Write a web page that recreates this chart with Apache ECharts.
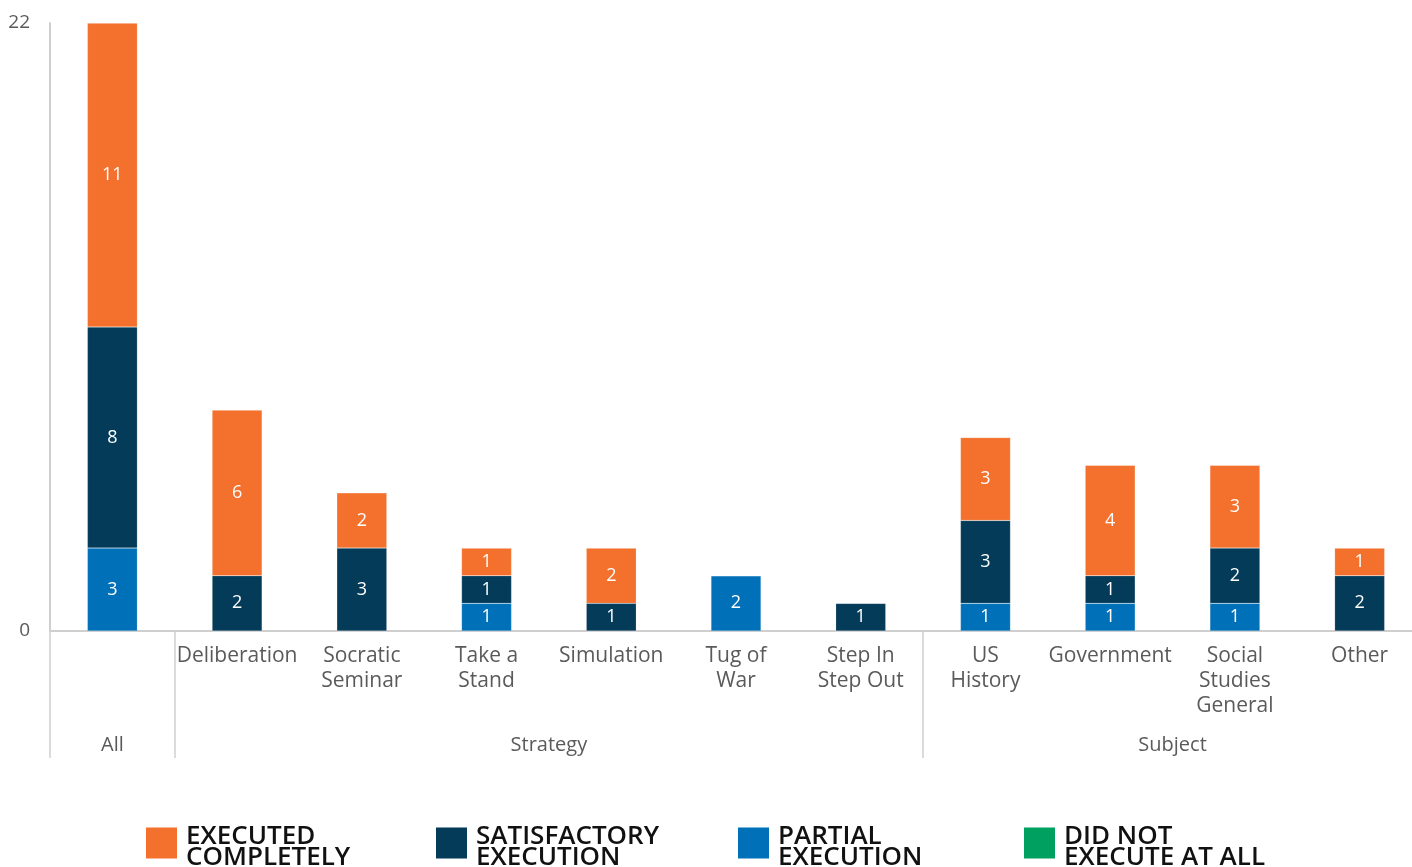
<!DOCTYPE html>
<html>
<head>
<meta charset="utf-8">
<script src="https://cdn.jsdelivr.net/npm/echarts@6/dist/echarts.min.js"></script>
<style>
  html, body { margin: 0; padding: 0; background: #fff; }
  #chart { width: 1412px; height: 867px; }
</style>
</head>
<body>
<div id="chart"></div>
<script>
// Categories along the x axis (the overall bar carries its name in the group band only)
const categories = [
  'All', 'Deliberation', 'Socratic\nSeminar', 'Take a\nStand', 'Simulation',
  'Tug of\nWar', 'Step In\nStep Out', 'US\nHistory', 'Government',
  'Social\nStudies\nGeneral', 'Other'
];

// Group headers and the category index ranges they cover
const groupNames = ['All', 'Strategy', 'Subject'];
const groupBounds = [0, 1, 7, 11];

// Counts per execution level
const partialExecution      = [3, 0, 0, 1, 0, 2, 0, 1, 1, 1, 0];
const satisfactoryExecution = [8, 2, 3, 1, 1, 0, 1, 3, 1, 2, 2];
const executedCompletely    = [11, 6, 2, 1, 2, 0, 0, 3, 4, 3, 1];
const didNotExecute         = [0, 0, 0, 0, 0, 0, 0, 0, 0, 0, 0];

const yTicks = [0, 22];

const NAMES = {
  exec: 'EXECUTED\nCOMPLETELY',
  sat: 'SATISFACTORY\nEXECUTION',
  part: 'PARTIAL\nEXECUTION',
  dne: 'DID NOT\nEXECUTE AT ALL'
};
const COLORS = {
  exec: '#F3702D',
  sat: '#033B59',
  part: '#0070B8',
  dne: '#00A160'
};

const FONT = '"Open Sans", Lato, sans-serif';

// Square swatch sitting at the top of a taller box, so it lines up with the first text line
const SWATCH = 'path://M0,0L31,0L31,31L0,31Z M0,40L0.01,40';

// Midpoints of each group span, where the group headers sit
const groupCenters = groupNames.map((_, i) => (groupBounds[i] + groupBounds[i + 1]) / 2);

function barSeries(name, data, color) {
  return {
    name: name,
    type: 'bar',
    stack: 'total',
    data: data,
    barWidth: 50,
    itemStyle: { color: color, borderColor: 'rgba(255,255,255,0.35)', borderWidth: 0.5 },
    label: {
      show: true,
      position: 'inside',
      color: '#fff',
      fontFamily: FONT,
      fontSize: 18,
      formatter: p => (p.value ? String(p.value) : '')
    },
    emphasis: { disabled: true }
  };
}

function legendAt(left, name) {
  return {
    data: [name],
    left: left,
    top: 824,
    padding: 0,
    icon: SWATCH,
    itemWidth: 31,
    itemHeight: 40,
    itemGap: 10,
    selectedMode: false,
    itemStyle: { borderWidth: 0 },
    textStyle: {
      fontFamily: FONT,
      fontSize: 26,
      fontWeight: 600,
      color: '#111',
      lineHeight: 21,
      padding: [0, 0, 0, 4]
    }
  };
}

const chart = echarts.init(document.getElementById('chart'));
chart.setOption({
  animation: false,
  backgroundColor: '#fff',
  // The category band runs slightly past the right edge of the canvas
  grid: {
    left: 50, top: 23, width: 1372, bottom: 236,
    containLabel: false,
    outerBoundsMode: 'none'
  },
  xAxis: [
    {
      type: 'category',
      data: categories,
      axisLine: { show: true, lineStyle: { color: '#cfcfcf', width: 2 } },
      axisTick: { show: false },
      axisLabel: {
        interval: 0,
        margin: 13,
        fontFamily: FONT,
        fontSize: 21,
        color: '#5a5a5a',
        lineHeight: 25,
        formatter: (v, i) => (i === 0 ? '' : v)
      }
    },
    {
      // Group header band beneath the category labels
      type: 'value',
      position: 'bottom',
      min: 0,
      max: 11,
      axisLine: { show: false },
      splitLine: { show: false },
      axisTick: {
        show: true,
        inside: false,
        length: 127,
        customValues: groupBounds.slice(0, 3),
        lineStyle: { color: '#cfcfcf', width: 1.5 }
      },
      axisLabel: {
        show: true,
        margin: 104,
        customValues: groupCenters,
        formatter: v => groupNames[groupCenters.indexOf(v)] || '',
        fontFamily: FONT,
        fontSize: 20,
        color: '#5a5a5a'
      }
    }
  ],
  yAxis: {
    type: 'value',
    min: yTicks[0],
    max: yTicks[1],
    interval: 22,
    axisLine: { show: true, lineStyle: { color: '#cfcfcf', width: 2 } },
    axisTick: { show: false },
    splitLine: { show: false },
    axisLabel: {
      margin: 20,
      fontFamily: FONT,
      fontSize: 19,
      color: '#5a5a5a'
    }
  },
  legend: [
    legendAt(146, NAMES.exec),
    legendAt(436, NAMES.sat),
    legendAt(738, NAMES.part),
    legendAt(1024, NAMES.dne)
  ],
  series: [
    barSeries(NAMES.part, partialExecution, COLORS.part),
    barSeries(NAMES.sat, satisfactoryExecution, COLORS.sat),
    barSeries(NAMES.exec, executedCompletely, COLORS.exec),
    barSeries(NAMES.dne, didNotExecute, COLORS.dne)
  ]
});
</script>
</body>
</html>
